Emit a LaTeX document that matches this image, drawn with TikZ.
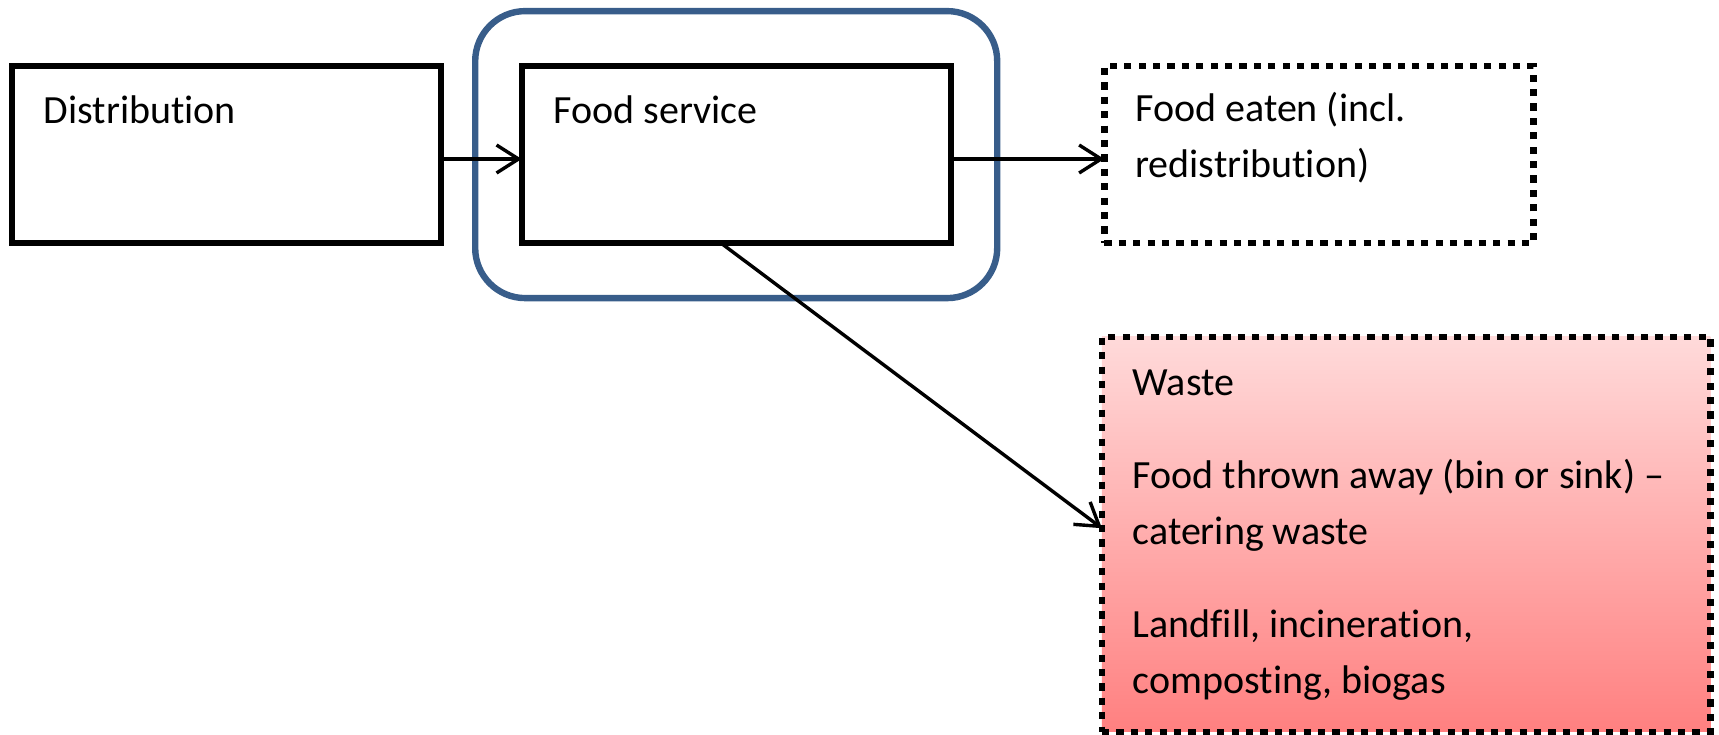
\documentclass[tikz,border=0pt]{standalone}
\usepackage{fontspec}
\setmainfont{Carlito}[Ligatures=NoCommon]
\usetikzlibrary{positioning,arrows.meta}

\definecolor{groupblue}{RGB}{56,93,138}
\definecolor{wastetop}{RGB}{255,218,218}
\definecolor{wastebottom}{RGB}{255,128,128}

\tikzset{
  stage/.style={draw, line width=3.2pt, outer sep=0pt, minimum width=214.5pt, minimum height=88.5pt},
  outcome/.style={stage, dash pattern=on 3.6pt off 3.6pt},
  group/.style={draw=groupblue, line width=3.2pt, rounded corners=25pt, minimum width=261pt, minimum height=143.5pt},
  txt/.style={inner sep=0pt, align=left, font=\fontsize{20}{28}\selectfont},
  flow/.style={line width=1.7pt, -{Straight Barb[length=11pt,width=14pt]}}
}

\begin{document}
\begin{tikzpicture}[x=1pt,y=1pt]
  \useasboundingbox (0,0) rectangle (859.5,-367);
  \node[stage] (dist) at (113.1,-77.3) {};
  \node[stage, right=40.5pt of dist] (service) {};
  \node[group] (caterer) at (service) {};
  \node[outcome, right=76.8pt of service] (eaten) {};
  \node[outcome, below right=46.8pt and -1.2pt of eaten.south west, minimum width=304.2pt, minimum height=197.5pt,
        top color=wastetop, bottom color=wastebottom] (waste) {};
  % texts sit in the top left corner of each box
  \node[txt, below right=8.8pt and 15.8pt of dist.north west] (distlabel) {\strut Distribution};
  \node[txt, below right=8.8pt and 15.8pt of service.north west] (servicelabel) {\strut Food service};
  \node[txt, below right=7.8pt and 15.3pt of eaten.north west] (eatenlabel) {\strut Food eaten (incl.\\redistribution)};
  \node[txt, below right=9.4pt and 15.2pt of waste.north west] (wastelabel) {\strut Waste\\[18.6pt]Food thrown away (bin or sink) --\\catering waste\\[18.6pt]Landfill, incineration,\\composting, biogas};
  \draw[flow] ([yshift=-2.2pt]dist.east) -- ([yshift=-2.2pt]service.west);
  \draw[flow] ([yshift=-2.2pt]service.east) -- ([yshift=-2.2pt]eaten.west);
  \draw[flow] ([xshift=-7.6pt]service.south) -- ([yshift=3pt]waste.west);
\end{tikzpicture}
\end{document}
